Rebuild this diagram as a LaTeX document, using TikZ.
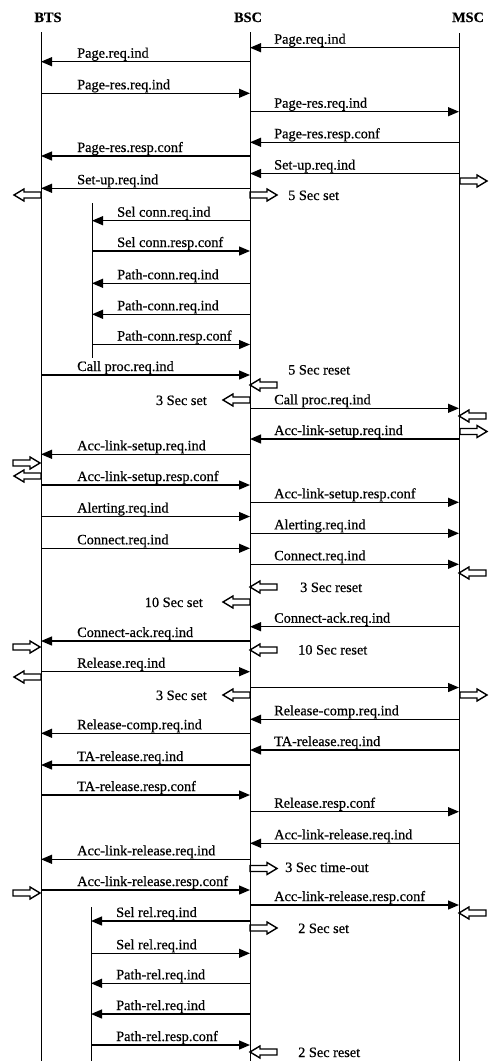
\documentclass[tikz,border=0pt]{standalone}
\usepackage{fontspec}
\setmainfont{Liberation Serif}[FakeBold=0.6]
\usetikzlibrary{arrows.meta}
\tikzset{
  lifeline/.style={line width=0.8pt},
  msgline/.style={line width=1.3pt,-{Triangle[length=11pt,width=9pt]}},
  lbl/.style={anchor=base west,inner sep=0pt,font=\fontsize{14.3}{16}\selectfont},
  hdr/.style={anchor=base,inner sep=0pt,font=\bfseries\fontsize{14.3}{16}\selectfont},
  blk/.style={line width=1.4pt,line join=miter}
}
\newcommand\blkR[2]{\draw[blk] (#1,#2) ++(0,-3) -- ++(17,0) -- ++(0,-3) -- ++(10,6) -- ++(-10,6) -- ++(0,-3) -- ++(-17,0) -- cycle;}
\newcommand\blkL[2]{\draw[blk] (#1,#2) ++(0,-3) -- ++(-17,0) -- ++(0,-3) -- ++(-10,6) -- ++(10,6) -- ++(0,-3) -- ++(17,0) -- cycle;}
\begin{document}
\begin{tikzpicture}[x=1pt,y=-1pt]
\useasboundingbox (0,0) rectangle (496,1061);
% headers
\node[hdr] (bts) at (48,22) {BTS};
\node[hdr] (bsc) at (248,22) {BSC};
\node[hdr] (msc) at (468,22) {MSC};
% lifelines
\coordinate (btsT) at (41,32);  \coordinate (btsB) at (41,1061);
\coordinate (bscT) at (250,32); \coordinate (bscB) at (250,1061);
\coordinate (mscT) at (459,33); \coordinate (mscB) at (459,1061);
\coordinate (swAT) at (92,203); \coordinate (swAB) at (92,358);
\coordinate (swBT) at (91,907); \coordinate (swBB) at (91,1061);
\draw[lifeline] (btsT) -- (btsB);
\draw[lifeline] (bscT) -- (bscB);
\draw[lifeline] (mscT) -- (mscB);
\draw[lifeline] (swAT) -- (swAB);
\draw[lifeline] (swBT) -- (swBB);
% messages
\foreach \y/\f/\t/\lx/\txt [count=\i] in {
  47.7/459/250/274/Page.req.ind,
  61.7/250/41/77/Page.req.ind,
  93.3/41/250/77/Page-res.req.ind,
  111.7/250/459/274/Page-res.req.ind,
  142.3/459/250/274/Page-res.resp.conf,
  156/250/41/77/Page-res.resp.conf,
  173.5/459/250/274/Set-up.req.ind,
  188.3/250/41/77/Set-up.req.ind,
  220.7/250/92/117/Sel conn.req.ind,
  251/92/250/117/Sel conn.resp.conf,
  283.3/250/92/117/Path-conn.req.ind,
  314.3/250/92/117/Path-conn.req.ind,
  344.5/92/250/117/Path-conn.resp.conf,
  375/41/250/77/Call proc.req.ind,
  408.3/250/459/274/Call proc.req.ind,
  439/459/250/274/Acc-link-setup.req.ind,
  454.3/250/41/77/Acc-link-setup.req.ind,
  485/41/250/77/Acc-link-setup.resp.conf,
  502.3/250/459/274/Acc-link-setup.resp.conf,
  516.5/41/250/77/Alerting.req.ind,
  533.3/250/459/274/Alerting.req.ind,
  548.3/41/250/77/Connect.req.ind,
  564.3/250/459/274/Connect.req.ind,
  626.7/459/250/274/Connect-ack.req.ind,
  641/250/41/77/Connect-ack.req.ind,
  671.7/41/250/77/Release.req.ind,
  719.3/459/250/274/Release-comp.req.ind,
  733.3/250/41/77/Release-comp.req.ind,
  750/459/250/274/TA-release.req.ind,
  765/250/41/77/TA-release.req.ind,
  795/41/250/77/TA-release.resp.conf,
  811.7/250/459/274/Release.resp.conf,
  843.3/459/250/274/Acc-link-release.req.ind,
  859.3/250/41/77/Acc-link-release.req.ind,
  890/41/250/77/Acc-link-release.resp.conf,
  905/250/459/274/Acc-link-release.resp.conf,
  921/250/91/116/Sel rel.req.ind,
  953.3/91/250/116/Sel rel.req.ind,
  983.3/250/91/116/Path-rel.req.ind,
  1014/250/91/116/Path-rel.req.ind,
  1045/91/250/116/Path-rel.resp.conf}
{
  \coordinate (s\i) at (\f,\y);
  \coordinate (e\i) at (\t,\y);
  \draw[msgline] (s\i) -- (e\i);
  \node[lbl] (l\i) at (\lx,\y-4) {\txt};
}
% unlabelled message
\coordinate (sx) at (250,687.5);
\coordinate (ex) at (459,687.5);
\draw[msgline] (sx) -- (ex);
% timer labels
\node[lbl] (t1) at (288,200) {5 Sec set};
\node[lbl] (t2) at (288,374.5) {5 Sec reset};
\node[lbl,anchor=base east] (t3) at (207,405) {3 Sec set};
\node[lbl] (t4) at (300,592) {3 Sec reset};
\node[lbl,anchor=base east] (t5) at (203,607) {10 Sec set};
\node[lbl] (t6) at (298,654.5) {10 Sec reset};
\node[lbl,anchor=base east] (t7) at (207,700) {3 Sec set};
\node[lbl] (t8) at (285,872) {3 Sec time-out};
\node[lbl] (t9) at (298,933) {2 Sec set};
\node[lbl] (t10) at (298,1057) {2 Sec reset};
% hollow block arrows
\blkR{460}{181}
\blkL{41}{195}
\blkR{250}{195}
\blkL{277}{385}
\blkL{250}{400}
\blkL{486}{416}
\blkR{460}{431.5}
\blkR{13}{463}
\blkL{41}{476}
\blkL{486}{573}
\blkL{277}{587}
\blkL{250}{602}
\blkR{13}{647}
\blkL{277}{650}
\blkL{41}{677}
\blkL{250}{695}
\blkR{460}{695}
\blkR{250}{868.5}
\blkR{13}{893}
\blkL{486}{913}
\blkR{250}{928}
\blkL{277}{1052}
\end{tikzpicture}
\end{document}
